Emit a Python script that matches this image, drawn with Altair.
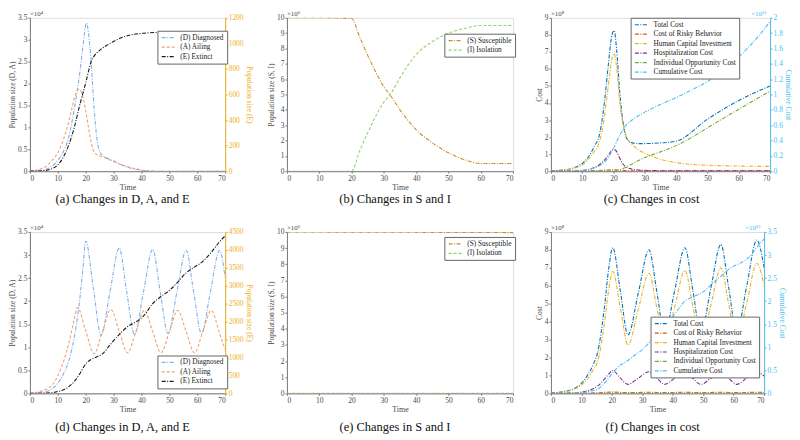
import altair as alt
import pandas as pd

SERIF = "Liberation Serif"
AX = "#7a7a7a"
LAB = "#4a4a4a"

# ---------------- data ----------------
# (a) D, A in 10^4 ; E raw
a_D_t = [0, 5, 8, 10, 12, 14, 15, 16, 17, 18, 19, 20.3, 21, 22, 23, 24, 25, 26, 27, 30, 35, 40, 45, 70]
a_D_v = [0, 0.03, 0.12, 0.25, 0.45, 0.8, 1.1, 1.45, 1.85, 2.3, 2.85, 3.38, 3.15, 2.45, 1.45, 0.75, 0.45, 0.36, 0.32, 0.23, 0.09, 0.02, 0.0, 0.0]
a_A_t = [0, 5, 8, 10, 12, 14, 15, 16, 17, 17.6, 18.5, 20, 21, 22, 22.5, 23.5, 25, 27, 30, 35, 40, 45, 70]
a_A_v = [0, 0.08, 0.25, 0.42, 0.72, 1.15, 1.42, 1.68, 1.84, 1.87, 1.8, 1.38, 1.0, 0.65, 0.52, 0.4, 0.35, 0.3, 0.22, 0.1, 0.03, 0.0, 0.0]
a_E_t = [0, 5, 8, 10, 12, 14, 16, 18, 20, 22, 23, 25, 28, 30, 33, 36, 40, 45, 50, 70]
a_E_v = [0, 5, 20, 50, 110, 210, 350, 530, 690, 860, 900, 945, 990, 1015, 1045, 1065, 1078, 1085, 1087, 1087]

# (b) S, I in 10^6
b_S_t = [0, 10, 20, 22.5, 25, 27.5, 30, 32, 35, 40, 45, 50, 55, 60, 70]
b_S_v = [10, 10, 9.95, 8.75, 7.55, 6.45, 5.5, 4.95, 4.0, 2.7, 1.85, 1.2, 0.75, 0.5, 0.5]
b_I_t = [0, 10, 20, 22.5, 25, 27.5, 30, 32, 35, 40, 45, 50, 55, 60, 70]
b_I_v = [0, 0, 0, 1.3, 2.5, 3.6, 4.5, 5.0, 6.1, 7.6, 8.45, 9.0, 9.3, 9.5, 9.5]

# (c) costs in 10^8 ; cumulative in 10^13
c_total_t = [0, 5, 8, 10, 12, 14, 15.3, 17, 18.2, 19.5, 20.2, 21, 22, 23, 24, 25, 26, 28, 30, 35, 40, 50, 60, 70]
c_total_v = [0.02, 0.1, 0.25, 0.45, 0.85, 1.5, 2.0, 3.9, 6.0, 8.0, 8.25, 7.1, 4.6, 2.9, 2.0, 1.75, 1.66, 1.62, 1.62, 1.66, 1.76, 3.05, 4.15, 5.0]
c_hci_t = [0, 5, 8, 10, 12, 14, 15.3, 17, 18.2, 19.5, 20.2, 21, 22, 23, 24, 25, 26, 28, 30, 35, 40, 45, 50, 60, 70]
c_hci_v = [0.01, 0.08, 0.2, 0.36, 0.7, 1.2, 1.6, 3.1, 4.8, 6.6, 6.9, 6.1, 4.0, 2.8, 2.1, 1.75, 1.55, 1.25, 1.05, 0.7, 0.5, 0.4, 0.35, 0.3, 0.28]
c_hosp_t = [0, 8, 10, 12, 14, 16, 18, 19, 20, 21, 22, 23, 24, 26, 28, 32, 40, 70]
c_hosp_v = [0, 0.02, 0.05, 0.1, 0.22, 0.45, 0.85, 1.12, 1.28, 1.15, 0.75, 0.42, 0.25, 0.12, 0.07, 0.04, 0.02, 0.02]
c_risky_t = [0, 10, 15, 18, 20, 22, 25, 30, 70]
c_risky_v = [0, 0.01, 0.04, 0.07, 0.08, 0.06, 0.03, 0.02, 0.02]
c_indiv_t = [0, 20, 30, 40, 55, 70]
c_indiv_v = [0, 0.03, 0.8, 1.5, 3.1, 4.7]
c_cum_t = [0, 5, 10, 15, 18, 20, 22, 24, 26, 30, 35, 40, 45, 50, 55, 60, 65, 70]
c_cum_v = [0, 0.0, 0.01, 0.06, 0.16, 0.3, 0.47, 0.6, 0.67, 0.77, 0.87, 0.96, 1.06, 1.17, 1.32, 1.49, 1.7, 1.95]

# (d) D, A in 10^4 ; E raw
d_D_t = [0, 3, 6, 8, 10, 12, 14, 16, 17.5, 19, 20, 22.7, 25.5, 28.7, 32, 34.7, 37.5, 40.7, 44, 46.7, 49.5, 52.7, 56, 58.7, 61.5, 64.7, 68, 70]
d_D_v = [0, 0.01, 0.04, 0.1, 0.22, 0.42, 0.72, 1.25, 1.85, 2.7, 3.3, 2.3, 1.25, 2.2, 3.15, 2.2, 1.28, 2.2, 3.12, 2.2, 1.3, 2.2, 3.1, 2.2, 1.3, 2.2, 3.1, 2.5]
d_A_t = [0, 3, 6, 8, 10, 12, 14, 15.5, 17.1, 20, 23, 26, 29, 32, 35, 38, 41, 44, 47, 50, 53, 56, 59, 62, 65, 68, 70]
d_A_v = [0, 0.03, 0.09, 0.18, 0.38, 0.68, 1.1, 1.5, 1.86, 1.36, 0.86, 1.34, 1.82, 1.35, 0.88, 1.34, 1.8, 1.34, 0.88, 1.34, 1.8, 1.34, 0.88, 1.34, 1.8, 1.3, 0.95]
d_E_t = [0, 3, 6, 8, 10, 12, 14, 16, 18, 20, 22, 24, 26, 29, 32, 35, 38, 41, 44, 47, 50, 53, 56, 59, 62, 65, 68, 70]
d_E_v = [0, 2, 8, 20, 50, 100, 190, 340, 560, 820, 950, 1020, 1100, 1380, 1640, 1860, 1990, 2180, 2500, 2700, 2870, 3100, 3360, 3520, 3680, 3930, 4230, 4390]

# (e) S, I in 10^6
e_S_t = [0, 35, 70]
e_S_v = [10.0, 9.98, 9.96]
e_I_t = [0, 70]
e_I_v = [0.0, 0.01]

# (f) costs in 10^8 ; cumulative in 10^13
f_t = [0, 5, 8, 10, 12, 14, 15.3, 17.5, 19, 20.3, 22.8, 25.3, 28.7, 32.2, 34.8, 37.3, 40.6, 44, 46.6, 49.2, 52.5, 55.8, 58.4, 61, 64.3, 67.6, 70]
f_total_v = [0.02, 0.12, 0.3, 0.55, 1.0, 1.65, 2.25, 4.7, 7.0, 8.12, 5.7, 3.25, 5.6, 8.0, 5.65, 3.3, 5.7, 8.12, 5.75, 3.35, 5.85, 8.3, 5.85, 3.4, 6.0, 8.55, 7.0]
f_hci_v = [0.01, 0.1, 0.25, 0.45, 0.8, 1.35, 1.75, 3.8, 5.8, 6.8, 4.75, 2.7, 4.7, 6.7, 4.75, 2.75, 4.8, 6.85, 4.85, 2.8, 4.9, 7.0, 4.95, 2.85, 5.05, 7.25, 6.0]
f_hosp_v = [0, 0.01, 0.03, 0.07, 0.14, 0.27, 0.4, 0.78, 1.08, 1.27, 0.85, 0.5, 0.85, 1.2, 0.85, 0.5, 0.84, 1.18, 0.84, 0.5, 0.84, 1.18, 0.84, 0.5, 0.85, 1.2, 0.96]
f_risky_t = [0, 10, 15, 20.3, 25.3, 32.2, 37.3, 44, 49.2, 55.8, 61, 67.6, 70]
f_risky_v = [0, 0.01, 0.03, 0.07, 0.04, 0.06, 0.04, 0.06, 0.04, 0.06, 0.04, 0.06, 0.05]
f_indiv_t = [0, 20, 70]
f_indiv_v = [0, 0.01, 0.02]
f_cum_t = [0, 10, 15, 18, 20, 22, 25, 27, 30, 33, 35, 38, 41, 44, 47, 50, 53, 56, 59, 62, 65, 68, 70]
f_cum_v = [0, 0.02, 0.08, 0.25, 0.42, 0.57, 0.7, 0.8, 0.95, 1.15, 1.28, 1.5, 1.75, 2.0, 2.1, 2.2, 2.38, 2.55, 2.72, 2.82, 2.95, 3.2, 3.35]

# names / colours
DAE_names = ["(D) Diagnosed", "(A) Ailing", "(E) Extinct"]
DAE_colors = ["#7FB0E8", "#F4A070", "#1A1A1A"]
SI_names = ["(S) Susceptible", "(I) Isolation"]
SI_colors = ["#C8922A", "#93D36F"]
COST_names = ["Total Cost", "Cost of Risky Behavior", "Human Capital Investment",
              "Hospitalization Cost", "Individual Opportunity Cost", "Cumulative Cost"]
COST_colors = ["#0072BD", "#D95319", "#EDB120", "#7E2F8E", "#77AC30", "#4DBEEE"]
YEL = "#EDB120"
CYAN = "#4DBEEE"

DASHDOT = [4, 1.5, 1, 1.5]
DASHED = [3, 2]
DAE_dashes = [DASHDOT, DASHED, DASHDOT]
SI_dashes = [DASHDOT, DASHED]
COST_dashes = [DASHDOT] * 6


def frame(items):
    rows = []
    for name, ts, vs in items:
        for t, v in zip(ts, vs):
            rows.append({"series": name, "t": t, "v": v})
    return pd.DataFrame(rows)


XAXIS = alt.Axis(values=list(range(0, 71, 10)), title="Time", labelFont=SERIF, labelFontSize=7.5,
                 labelColor=LAB, titleFont=SERIF, titleFontSize=8, titleFontWeight="normal",
                 titleColor=LAB, domainColor=AX, tickColor=AX, tickSize=2, labelPadding=1,
                 titlePadding=2, grid=False)


def yaxis(values, title, orient="left", color=None):
    cl = color or LAB
    ca = color or AX
    return alt.Axis(orient=orient, values=values, format=".1~f", title=title, labelFont=SERIF,
                    labelFontSize=7.5, labelColor=cl, titleFont=SERIF, titleFontSize=7.5,
                    titleFontWeight="normal", titleColor=cl, domainColor=ca, tickColor=ca,
                    tickSize=2, labelPadding=1, titlePadding=1, grid=False)


def legend(x, y):
    return alt.Legend(title=None, orient="none", legendX=x, legendY=y, fillColor="white",
                      strokeColor="#666", padding=3, labelFont=SERIF, labelFontSize=7.3,
                      labelColor="#222", symbolType="M-2,0L2,0", symbolSize=45,
                      symbolStrokeWidth=1.2, symbolOffset=4, rowPadding=1.5, labelOffset=8)


def lines(df, names, colors, dashes, ydomain, axis, leg):
    return alt.Chart(df).mark_line(strokeWidth=1.1, interpolate="monotone", clip=True).encode(
        x=alt.X("t:Q", scale=alt.Scale(domain=[0, 70], nice=False, zero=False), axis=XAXIS),
        y=alt.Y("v:Q", scale=alt.Scale(domain=ydomain, nice=False), axis=axis),
        color=alt.Color("series:N", scale=alt.Scale(domain=names, range=colors), legend=leg),
        strokeDash=alt.StrokeDash("series:N", scale=alt.Scale(domain=names, range=dashes), legend=leg),
    )


def expo(txt, xpos, color=LAB):
    return alt.Chart(pd.DataFrame({"s": [txt]})).mark_text(
        align="left", baseline="bottom", font=SERIF, fontSize=7, color=color
    ).encode(text="s:N", x=alt.value(xpos), y=alt.value(-1))


def caption(txt, dx, offset):
    return alt.TitleParams(text=txt, orient="bottom", font=SERIF, fontSize=12.5,
                           fontWeight="normal", color="#111", offset=offset, dx=dx, anchor="middle")


half = [x / 2 for x in range(0, 8)]


def dae_panel(D_t, D_v, A_t, A_v, E_t, E_v, edom, evals, lx, ly, w, h, cap, dx, off):
    leg = legend(lx, ly)
    left = lines(frame([(DAE_names[0], D_t, D_v), (DAE_names[1], A_t, A_v)]),
                 DAE_names, DAE_colors, DAE_dashes, [0, 3.5],
                 yaxis(half, "Population size (D, A)"), leg)
    right = lines(frame([(DAE_names[2], E_t, E_v)]), DAE_names, DAE_colors, DAE_dashes, edom,
                  yaxis(evals, "Population size (E)", "right", YEL), leg)
    return alt.layer(left, right, expo("×10⁴", 0)).resolve_scale(y="independent").properties(
        width=w, height=h, title=caption(cap, dx, off))


def si_panel(S_t, S_v, I_t, I_v, lx, ly, w, h, cap, dx, off):
    leg = legend(lx, ly)
    ln = lines(frame([(SI_names[0], S_t, S_v), (SI_names[1], I_t, I_v)]), SI_names, SI_colors,
               SI_dashes, [0, 10], yaxis(list(range(0, 11)), "Population size (S, I)"), leg)
    return alt.layer(ln, expo("×10⁶", 0)).properties(width=w, height=h, title=caption(cap, dx, off))


def cost_panel(series, cum_t, cum_v, cdom, cvals, lx, ly, w, h, cap, dx, off):
    leg = legend(lx, ly)
    left = lines(frame(series), COST_names, COST_colors, COST_dashes, [0, 9],
                 yaxis(list(range(0, 10)), "Cost"), leg)
    right = lines(frame([(COST_names[5], cum_t, cum_v)]), COST_names, COST_colors, COST_dashes,
                  cdom, yaxis(cvals, "Cumulative Cost", "right", CYAN), leg)
    return alt.layer(left, right, expo("×10⁸", 0), expo("×10¹³", w - 19, CYAN)).resolve_scale(
        y="independent").properties(width=w, height=h, title=caption(cap, dx, off))


H1, H2 = 154, 162
RES = dict(color="independent", strokeDash="independent")

pa = dae_panel(a_D_t, a_D_v, a_A_t, a_A_v, a_E_t, a_E_v, [0, 1200], list(range(0, 1201, 200)),
               128, 13, 196, H1, "(a) Changes in D, A, and E", -5, 1)
pb = si_panel(b_S_t, b_S_v, b_I_t, b_I_v, 158, 16, 227, H1, "(b) Changes in S and I", -5, 1)
pc = cost_panel([(COST_names[0], c_total_t, c_total_v), (COST_names[1], c_risky_t, c_risky_v),
                 (COST_names[2], c_hci_t, c_hci_v), (COST_names[3], c_hosp_t, c_hosp_v),
                 (COST_names[4], c_indiv_t, c_indiv_v)],
                c_cum_t, c_cum_v, [0, 2], [round(x * 0.2, 1) for x in range(0, 11)],
                80, 0, 220, H1, "(c) Changes in cost", -9, 1)

pd_ = dae_panel(d_D_t, d_D_v, d_A_t, d_A_v, d_E_t, d_E_v, [0, 4500], list(range(0, 4501, 500)),
                128, 124, 196, H2, "(d) Changes in D, A, and E", -5, 7)
pe = si_panel(e_S_t, e_S_v, e_I_t, e_I_v, 158, 5, 227, H2, "(e) Changes in S and I", -5, 7)
pf = cost_panel([(COST_names[0], f_t, f_total_v), (COST_names[1], f_risky_t, f_risky_v),
                 (COST_names[2], f_t, f_hci_v), (COST_names[3], f_t, f_hosp_v),
                 (COST_names[4], f_indiv_t, f_indiv_v)],
                f_cum_t, f_cum_v, [0, 3.5], half,
                100, 85, 214, H2, "(f) Changes in cost", -5, 7)

row1 = alt.hconcat(pa, alt.hconcat(pb, pc, spacing=38, bounds="flush").resolve_scale(**RES),
                   spacing=62, bounds="flush").resolve_scale(**RES)
row2 = alt.hconcat(pd_, alt.hconcat(pe, pf, spacing=38, bounds="flush").resolve_scale(**RES),
                   spacing=62, bounds="flush").resolve_scale(**RES)

chart = alt.vconcat(row1, row2, spacing=17).resolve_scale(**RES).properties(
    padding={"left": 0, "right": 0, "top": 0, "bottom": 0}
).configure_view(stroke=None).configure(font=SERIF)

chart.save("out.html", embed_options={"renderer": "svg", "actions": False})
